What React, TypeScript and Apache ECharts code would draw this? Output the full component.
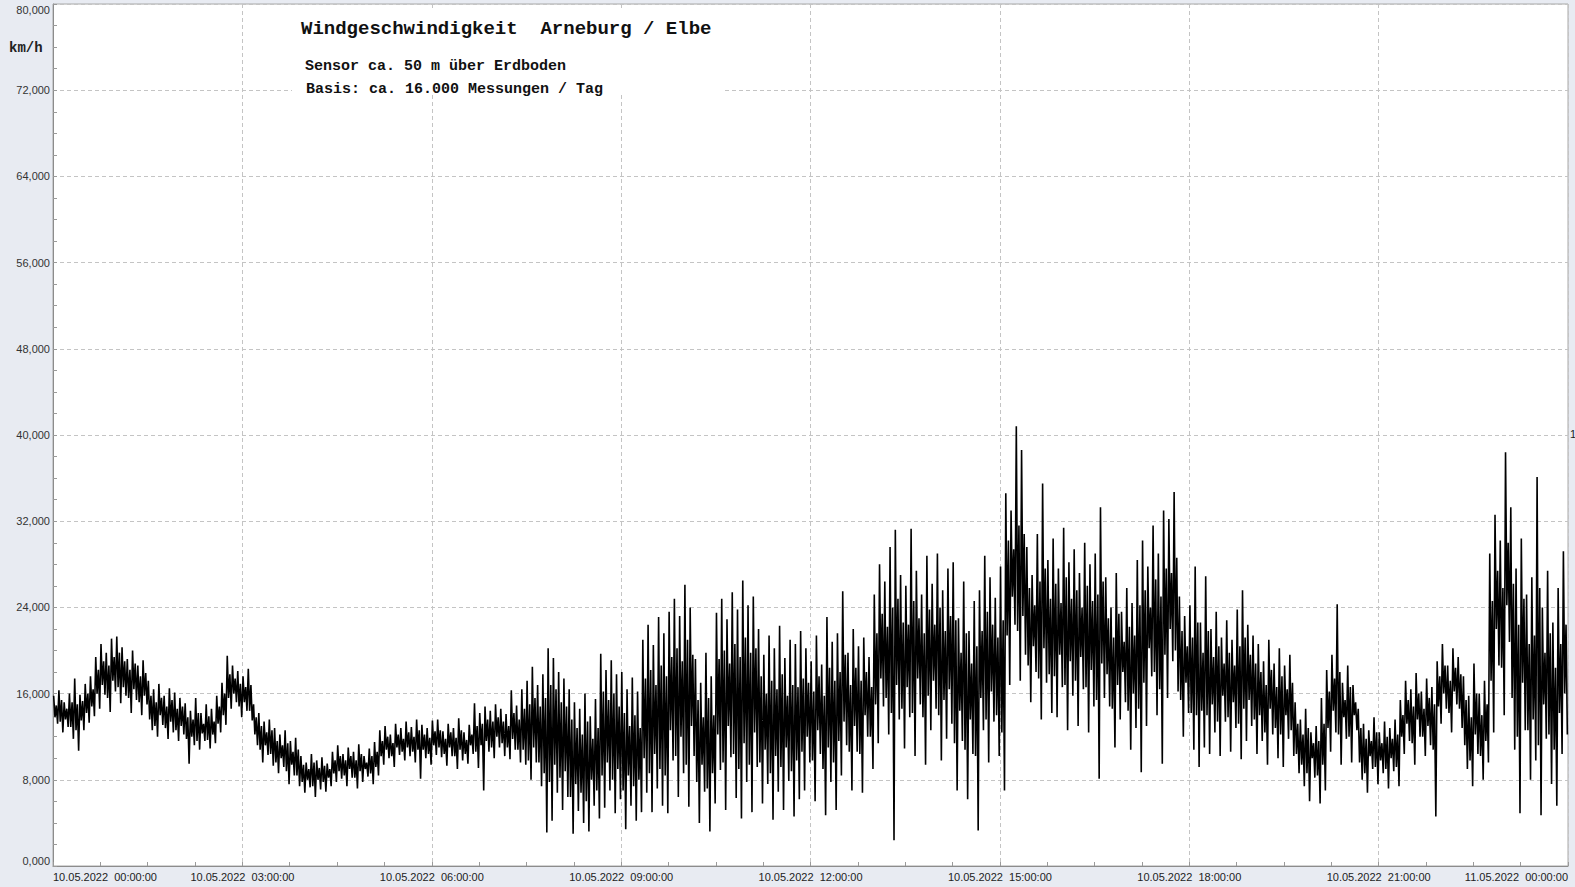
import React, { useEffect, useRef } from "react";
import * as echarts from "echarts";

const BIN_MINUTES = 5;
const DAY_MINUTES = 1440;
const X_TICK_MINUTES = 180;
const Y_MAX = 80;
const Y_STEP = 8;

const TITLE = "Windgeschwindigkeit  Arneburg / Elbe";
const SUB1 = "Sensor ca. 50 m über Erdboden";
const SUB2 = "Basis: ca. 16.000 Messungen / Tag";
const UNIT = "km/h";

// per 5-minute bin: highest reading (km/h)
const hi = [
  15.8, 16.3, 15.2, 16.0, 17.4, 15.9, 16.9, 17.6,
  19.4, 20.6, 19.8, 21.1, 21.3,
  20.3, 19.2, 20.0, 18.6, 19.1,
  17.2, 16.4, 16.9, 15.8, 16.5, 16.1, 15.6,
  15.1, 14.4, 15.6, 14.2, 15.0, 14.6,
  15.8, 17.0,
  19.5, 18.6, 18.1, 17.6, 18.3,
  15.0, 14.2, 13.4, 13.6,
  12.8, 12.2, 12.6, 11.6, 11.9,
  10.2, 9.6, 10.4, 9.8, 10.1, 9.5, 10.6,
  11.2, 10.4, 11.0, 10.6, 11.3, 10.2, 10.9, 11.5,
  12.6, 13.0, 12.2, 13.2, 12.8,
  13.4, 12.9, 13.6, 13.1, 12.8, 13.5,
  13.6, 12.5, 13.2, 12.8, 13.7, 12.4, 13.1, 15.1,
  14.2, 14.8, 14.4, 15.0, 14.6, 14.1, 16.3, 14.9,
  16.4, 17.2, 18.5, 16.8,
  17.8, 20.2, 19.3, 18.0, 17.4,
  16.4, 15.2, 14.6, 16.0, 13.9, 15.5,
  19.7, 18.2, 19.1, 17.8,
  18.0, 16.4, 17.5, 16.2,
  21.0, 22.4, 20.5, 23.1, 21.6,
  23.6, 24.8, 23.2, 26.1, 24.0,
  19.2, 17.0, 19.8, 17.6,
  23.5, 24.8, 22.9, 25.4, 23.8, 26.5, 24.2, 25.0,
  22.0, 19.6, 21.4, 20.2, 22.3, 19.3, 21.0, 20.6, 21.8,
  20.2, 19.0, 21.4, 18.7, 23.1, 20.8,
  21.6, 25.5, 19.8, 22.0, 20.4, 21.2, 19.4,
  25.2, 28.0, 26.4, 29.6, 31.2, 27.0,
  26.0, 31.3, 27.4, 25.2, 28.8, 26.2, 29.0, 25.6, 27.6,
  28.2, 23.0, 26.4, 21.8, 24.6,
  25.6, 28.8, 26.8, 24.9, 27.8,
  34.6, 33.0, 40.8, 38.6,
  29.6, 27.0, 30.8, 35.5, 28.4,
  30.4, 27.6, 31.4, 28.2, 29.4, 27.2, 30.0, 28.0, 29.0, 33.3,
  26.8, 24.0, 27.2, 23.6, 25.8, 24.4,
  28.4, 30.2, 27.8, 31.6, 29.0, 33.0, 32.2, 34.7,
  25.0, 23.2, 24.2, 27.8, 22.6, 26.9,
  22.0, 23.6, 21.2, 22.8, 21.0, 23.8, 25.6, 22.4, 21.4,
  20.6, 19.0, 21.0, 18.8, 20.2, 18.6, 19.6,
  15.2, 13.6, 14.6, 12.4, 13.0, 15.6,
  18.2, 19.6, 24.3, 17.0, 18.6, 16.8,
  14.6, 13.2, 12.6, 13.8, 12.4, 13.4, 12.8, 13.6,
  15.4, 17.2, 16.4, 17.9, 16.2, 17.4, 16.6,
  19.0, 20.6, 18.6, 20.2, 19.4,
  17.6, 15.8, 18.8, 16.0, 17.2,
  29.0, 32.6, 30.2, 38.4,
  33.3, 27.6, 30.4, 25.2,
  26.8, 36.1, 24.0, 27.4, 22.6, 25.8, 29.2,
];

// per 5-minute bin: upper edge of the dense core (km/h)
const hi2 = [
  14.9, 15.4, 14.6, 15.2, 15.0, 15.3, 16.0, 16.4,
  18.2, 19.0, 18.6, 19.4, 19.8,
  19.0, 18.2, 18.8, 17.6, 17.9,
  15.8, 15.2, 15.6, 14.8, 15.4, 14.6, 14.8,
  13.8, 13.6, 14.2, 13.2, 13.9, 13.4,
  14.8, 16.0,
  17.8, 17.4, 16.9, 16.6, 16.8,
  13.8, 13.0, 12.4, 12.6,
  11.6, 11.2, 11.4, 10.6, 10.8,
  9.4, 9.0, 9.6, 9.1, 9.3, 9.0, 9.8,
  10.2, 9.8, 10.2, 9.8, 10.4, 9.6, 10.2, 10.6,
  11.6, 12.0, 11.4, 12.2, 11.8,
  12.4, 12.0, 12.6, 12.2, 11.9, 12.5,
  12.6, 11.8, 12.4, 11.9, 12.6, 11.7, 12.2, 13.0,
  13.2, 13.6, 13.4, 13.8, 13.4, 13.0, 14.2, 13.6,
  14.6, 15.0, 15.6, 14.8,
  15.6, 16.8, 16.4, 15.2, 14.8,
  13.6, 12.8, 12.2, 13.4, 11.8, 12.8,
  16.2, 15.4, 16.0, 14.8,
  14.2, 13.0, 14.0, 12.8,
  17.4, 18.2, 16.8, 18.6, 17.6,
  19.4, 20.2, 19.0, 21.0, 19.6,
  15.4, 13.8, 15.6, 14.0,
  19.2, 20.0, 18.8, 20.6, 19.4, 21.2, 19.8, 20.2,
  17.6, 16.0, 17.2, 16.4, 17.8, 15.8, 16.8, 16.6, 17.4,
  17.0, 16.2, 17.6, 15.8, 18.4, 17.2,
  18.0, 19.6, 16.8, 18.4, 17.2, 18.0, 16.6,
  21.6, 23.4, 22.2, 24.0, 24.8, 22.6,
  22.4, 24.6, 23.0, 21.6, 23.8, 22.4, 24.0, 21.8, 23.2,
  22.8, 19.8, 21.6, 18.8, 20.4,
  21.8, 23.6, 22.4, 21.2, 22.8,
  30.2, 29.4, 31.6, 30.8,
  25.8, 24.2, 26.4, 27.6, 24.8,
  26.2, 24.4, 26.8, 24.8, 25.6, 24.0, 26.0, 24.6, 25.2, 26.4,
  23.0, 21.2, 23.4, 20.8, 22.2, 21.4,
  24.2, 25.6, 24.0, 26.6, 25.0, 27.6, 27.2, 28.6,
  21.8, 20.4, 21.2, 22.6, 19.8, 21.8,
  19.4, 20.4, 18.8, 19.8, 18.6, 20.4, 21.2, 19.6, 18.8,
  18.0, 16.8, 18.2, 16.6, 17.6, 16.4, 17.0,
  13.2, 12.2, 12.8, 11.4, 11.6, 13.2,
  16.2, 17.4, 18.0, 15.4, 16.6, 15.2,
  12.8, 11.8, 11.6, 12.4, 11.4, 12.0, 11.8, 12.2,
  14.0, 15.4, 14.8, 16.0, 14.6, 15.6, 15.0,
  17.6, 18.6, 17.2, 18.4, 17.8,
  15.4, 13.8, 16.0, 14.0, 15.0,
  24.6, 27.4, 25.8, 30.0,
  26.2, 22.4, 24.8, 20.6,
  21.4, 25.8, 19.8, 21.6, 18.4, 20.6, 22.4,
];

// per 5-minute bin: lower edge of the dense core (km/h)
const lo2 = [
  13.8, 13.4, 13.6, 12.9, 12.6, 13.5, 14.2, 14.8,
  16.0, 16.8, 15.6, 17.2, 16.6,
  16.6, 15.6, 16.4, 15.2, 15.8,
  13.6, 13.0, 14.0, 12.8, 13.4, 12.6, 13.0,
  11.8, 12.0, 11.6, 12.3, 11.7, 12.2,
  13.2, 14.0,
  15.6, 16.0, 14.8, 15.2, 14.4,
  12.2, 10.8, 11.2, 10.4,
  9.6, 10.0, 8.8, 9.4, 8.4,
  7.8, 8.0, 7.4, 8.0, 7.8, 8.2, 8.6,
  8.8, 8.4, 9.0, 8.2, 8.8, 9.0, 8.6, 9.2,
  10.2, 10.8, 10.2, 11.0, 10.6,
  11.0, 10.6, 10.8, 10.8, 10.4, 11.2,
  11.0, 10.4, 11.0, 10.2, 10.8, 10.4, 11.2, 10.6,
  11.2, 11.6, 11.0, 12.0, 11.4, 11.0, 11.8, 10.8,
  10.8, 9.8, 11.0, 9.6,
  8.6, 7.8, 9.4, 8.2, 8.8,
  6.4, 7.6, 6.8, 6.0, 8.0, 7.0,
  8.4, 9.6, 8.0, 9.0,
  7.0, 8.4, 7.4, 8.0,
  10.0, 8.6, 10.4, 9.0, 8.4,
  12.6, 10.2, 12.0, 9.4, 13.0,
  7.8, 9.4, 7.2, 8.6,
  12.2, 9.6, 13.0, 10.4, 9.0, 11.4, 9.4, 12.4,
  9.6, 10.8, 8.6, 10.2, 9.2, 11.0, 8.8, 9.8, 10.6,
  12.0, 9.8, 12.6, 9.0, 11.0, 9.6,
  11.6, 13.4, 10.6, 13.0, 10.4, 14.0, 12.0,
  15.0, 17.4, 15.6, 14.2, 16.8, 14.6,
  16.6, 14.2, 17.4, 13.8, 15.8, 17.2, 14.0, 15.4, 16.4,
  11.4, 14.4, 10.8, 13.6, 10.2,
  15.6, 13.6, 16.2, 14.0, 12.4,
  21.4, 25.0, 21.8, 23.2,
  18.6, 20.4, 17.4, 20.2, 17.8,
  17.6, 19.6, 16.8, 19.0, 17.2, 19.4, 16.6, 18.2, 15.4, 18.8,
  17.8, 14.6, 16.8, 18.0, 14.4, 16.0,
  14.6, 17.0, 20.2, 18.0, 16.4, 19.6, 22.0, 20.0,
  15.4, 17.0, 14.2, 14.0, 14.4, 14.0,
  15.0, 13.4, 15.8, 13.8, 15.2, 13.2, 14.6, 15.4, 13.6,
  14.0, 12.4, 14.6, 12.8, 12.2, 14.0, 12.6,
  10.4, 9.4, 8.6, 10.0, 8.4, 9.4,
  12.8, 14.4, 12.2, 13.8, 12.0, 14.0,
  9.6, 8.6, 10.2, 9.2, 9.8, 9.0, 10.0, 9.2,
  12.0, 13.2, 11.4, 13.6, 12.0, 13.0, 10.8,
  14.8, 16.0, 14.2, 16.2, 14.6,
  11.2, 9.8, 12.2, 10.2, 11.6,
  17.2, 22.0, 18.4, 24.2,
  15.6, 12.0, 17.0, 12.6,
  13.6, 11.2, 15.0, 12.2, 10.8, 14.2, 16.0,
];

// per 5-minute bin: lowest reading (km/h)
const lo = [
  13.2, 12.4, 12.9, 11.8, 10.7, 12.6, 13.3, 13.9,
  14.6, 15.9, 14.3, 16.2, 15.1,
  15.8, 14.2, 15.4, 14.0, 15.0,
  12.6, 12.0, 13.1, 11.8, 12.4, 11.6, 12.2,
  9.5, 11.2, 10.8, 11.6, 10.9, 11.4,
  12.4, 13.1,
  14.6, 15.2, 13.8, 14.4, 13.5,
  11.2, 9.6, 10.3, 9.3,
  8.6, 9.2, 7.6, 8.4, 7.4,
  6.8, 7.3, 6.4, 7.1, 6.9, 7.4, 7.8,
  8.1, 7.4, 8.2, 7.2, 7.8, 8.3, 7.6, 8.4,
  9.4, 10.0, 9.2, 10.3, 9.8,
  10.2, 9.6, 8.1, 10.0, 9.4, 10.3,
  10.1, 9.3, 10.2, 9.0, 9.8, 9.5, 10.4, 9.1,
  7.0, 10.6, 10.0, 11.0, 10.2, 9.9, 10.8, 9.6,
  9.4, 8.0, 9.6, 7.4,
  3.1, 4.2, 6.8, 5.2, 6.4,
  3.0, 5.1, 4.0, 3.2, 5.6, 4.4,
  5.4, 7.0, 4.9, 6.2,
  3.4, 5.6, 4.2, 5.0,
  6.8, 5.0, 7.2, 5.6, 4.9,
  9.8, 6.4, 8.6, 5.5, 10.2,
  4.0, 6.9, 3.2, 5.8,
  8.9, 5.2, 10.1, 6.3, 4.4, 7.8, 5.0, 9.2,
  5.8, 7.6, 4.3, 6.9, 5.2, 7.9, 4.6, 6.2, 7.0,
  9.6, 6.0, 10.4, 4.7, 7.8, 5.2,
  8.4, 11.2, 7.0, 10.6, 6.8, 12.0, 9.0,
  11.4, 14.8, 12.2, 2.4, 13.6, 10.9,
  13.8, 10.2, 15.0, 9.4, 12.6, 14.6, 9.8, 11.8, 13.2,
  7.0, 11.6, 6.2, 10.4, 3.3,
  12.6, 9.6, 13.4, 10.2, 7.0,
  16.8, 22.4, 17.2, 19.6,
  15.2, 18.0, 13.6, 17.0, 14.2,
  13.8, 16.6, 12.6, 15.8, 13.0, 16.4, 12.4, 14.8, 8.1, 15.6,
  14.8, 11.0, 13.6, 15.2, 10.8, 12.8,
  8.7, 13.0, 17.6, 14.0, 9.5, 15.6, 19.0, 16.2,
  12.0, 14.2, 10.8, 9.2, 11.0, 10.4,
  12.4, 10.2, 13.4, 10.6, 12.8, 9.9, 11.6, 13.0, 10.4,
  11.6, 9.4, 12.2, 10.0, 9.2, 11.8, 10.2,
  8.6, 7.4, 6.0, 8.2, 5.8, 7.0,
  10.6, 12.4, 9.4, 11.8, 9.6, 12.6,
  8.0, 6.8, 9.0, 7.6, 8.6, 7.2, 8.8, 7.4,
  10.4, 11.6, 9.4, 12.0, 10.2, 11.2, 4.6,
  13.2, 14.6, 12.4, 15.0, 12.8,
  9.0, 7.4, 10.4, 8.0, 9.6,
  12.4, 18.6, 14.0, 20.8,
  10.8, 4.9, 12.6, 8.0,
  9.8, 4.7, 11.8, 7.6, 5.6, 10.4, 12.2,
];

function pad(n: number) {
  return n < 10 ? "0" + n : String(n);
}

function xLabel(m: number) {
  if (m >= DAY_MINUTES) return "11.05.2022  00:00:00";
  return "10.05.2022  " + pad(Math.floor(m / 60)) + ":00:00";
}

export default function App() {
  const ref = useRef<HTMLDivElement>(null);

  useEffect(() => {
    if (!ref.current) return;
    const chart = echarts.init(ref.current, null, { renderer: "svg" });

    const data: [number, number][] = [];
    const n = Math.min(hi.length, hi2.length, lo2.length, lo.length);
    for (let i = 0; i < n; i++) {
      const t0 = i * BIN_MINUTES;
      data.push([t0 + BIN_MINUTES * 0.125, hi[i]]);
      data.push([t0 + BIN_MINUTES * 0.375, lo2[i]]);
      data.push([t0 + BIN_MINUTES * 0.625, hi2[i]]);
      data.push([t0 + BIN_MINUTES * 0.875, lo[i]]);
    }

    const labelFont = "'Liberation Sans', Arial, sans-serif";
    const mono = "'Liberation Mono', 'Courier New', monospace";

    chart.setOption({
      animation: false,
      backgroundColor: "#e8ebf2",
      grid: {
        left: 53,
        right: 7,
        top: 4,
        bottom: 21,
        show: true,
        backgroundColor: "#ffffff",
        borderColor: "#a8a8a8",
        borderWidth: 1,
      },
      xAxis: {
        type: "value",
        min: 0,
        max: DAY_MINUTES,
        interval: X_TICK_MINUTES,
        axisLine: { show: true, lineStyle: { color: "#8c8c8c", width: 1 } },
        axisTick: { show: true, inside: true, length: 4, lineStyle: { color: "#9a9a9a" } },
        minorTick: { show: true, splitNumber: 4, length: 4, lineStyle: { color: "#9a9a9a" } },
        splitLine: { show: true, lineStyle: { color: "#c4c4c4", type: [4, 3], width: 1 } },
        axisLabel: {
          formatter: (v: number) => xLabel(v),
          fontFamily: labelFont,
          fontSize: 11,
          color: "#222",
          margin: 5,
          alignMinLabel: "left",
          alignMaxLabel: "right",
          showMinLabel: true,
          showMaxLabel: true,
        },
      },
      yAxis: {
        type: "value",
        min: 0,
        max: Y_MAX,
        interval: Y_STEP,
        axisLine: { show: true, lineStyle: { color: "#8c8c8c", width: 1 } },
        axisTick: { show: true, inside: true, length: 4, lineStyle: { color: "#9a9a9a" } },
        minorTick: { show: true, splitNumber: 4, length: 4, lineStyle: { color: "#9a9a9a" } },
        splitLine: { show: true, lineStyle: { color: "#c4c4c4", type: [4, 3], width: 1 } },
        axisLabel: {
          formatter: (v: number) => v.toFixed(3).replace(".", ","),
          fontFamily: labelFont,
          fontSize: 11,
          color: "#333",
          margin: 3,
          verticalAlignMinLabel: "bottom",
          verticalAlignMaxLabel: "top",
        },
      },
      series: [
        {
          type: "line",
          data,
          showSymbol: false,
          symbol: "none",
          silent: true,
          lineStyle: { color: "#000000", width: 1.6 },
          z: 5,
        },
      ],
      graphic: [
        {
          type: "rect",
          left: 292,
          top: 9,
          shape: { width: 430, height: 86 },
          style: { fill: "#ffffff" },
          z: 10,
          silent: true,
        },
        {
          type: "text",
          left: 301,
          top: 19,
          style: { text: TITLE, font: "bold 19px " + mono, fill: "#111" },
          z: 11,
        },
        {
          type: "text",
          left: 305,
          top: 59,
          style: { text: SUB1, font: "bold 15px " + mono, fill: "#111" },
          z: 11,
        },
        {
          type: "text",
          left: 306,
          top: 82,
          style: { text: SUB2, font: "bold 15px " + mono, fill: "#111" },
          z: 11,
        },
        {
          type: "text",
          left: 9,
          top: 41,
          style: { text: UNIT, font: "bold 14px " + mono, fill: "#222" },
          z: 11,
        },
        {
          type: "text",
          left: 1570,
          top: 428,
          style: { text: "1", font: "11px " + labelFont, fill: "#222" },
          z: 11,
        },
      ],
    });

    return () => chart.dispose();
  }, []);

  return (
    <div
      ref={ref}
      style={{ position: "fixed", left: 0, top: 0, width: 1575, height: 887 }}
    />
  );
}
